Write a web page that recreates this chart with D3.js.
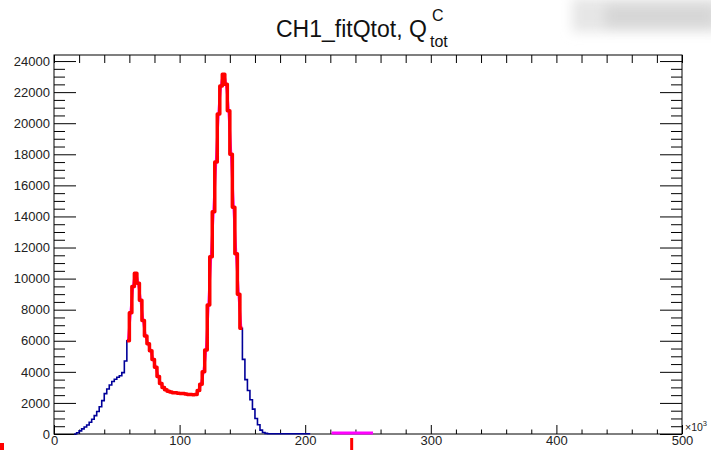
<!DOCTYPE html>
<html>
<head>
<meta charset="utf-8">
<script src="https://cdn.jsdelivr.net/npm/d3@7"></script>
<style>
  html, body { margin: 0; padding: 0; background: #fff; }
  svg { display: block; font-family: "Liberation Sans", Arial, sans-serif; }
</style>
</head>
<body>
<svg id="chart" width="711" height="450"></svg>
<script>
// Histogram of Q_tot (units of 10^3), 2-unit bins starting at binStart
const binStart = 16;
const binWidth = 2;
const counts = [
  0, 80, 200, 330, 450, 580, 760, 950, 1180, 1450,
  1750, 2150, 2600, 2900, 3150, 3380, 3520, 3650, 3750, 3950,
  4700, 6000, 7800, 9500, 10350, 9700, 8600, 7300, 6300, 5800,
  5350, 4800, 4300, 3700, 3250, 3000, 2850, 2750, 2700, 2650,
  2650, 2620, 2600, 2600, 2580, 2550, 2550, 2520, 2550, 2800,
  3200, 4000, 5400, 8300, 11400, 14300, 17500, 20600, 22400, 23150,
  22500, 20800, 18000, 14600, 11600, 9000, 6800, 4800, 3500, 2800,
  2200, 1600, 1000, 600, 250, 100, 40, 20, 20, 20,
  20, 20, 20, 20, 20, 20, 20, 20, 20, 20,
  20, 20, 20, 20
];
// Fit range (same units)
const fitRange = [58, 150];
// Secondary function range drawn along the baseline
const pedRange = [221, 254];
const pedMarker = 237;

// Axis ticks
const xMajor = [0, 100, 200, 300, 400, 500];
const yMajor = [0, 2000, 4000, 6000, 8000, 10000, 12000, 14000, 16000, 18000, 20000, 22000, 24000];
const xDomain = [0, 500];
const yDomain = [0, 24390];

const svg = d3.select("#chart");
const L = 54, R = 682, T = 55, B = 434;

const x = d3.scaleLinear().domain(xDomain).range([L, R]);
const y = d3.scaleLinear().domain(yDomain).range([B, T]);

// soft grey panel, top right
const defs = svg.append("defs");
defs.append("filter").attr("id", "soft").attr("x", "-50%").attr("y", "-100%").attr("width", "200%").attr("height", "300%")
  .append("feGaussianBlur").attr("stdDeviation", 6);
svg.append("rect").attr("x", 572).attr("y", -2).attr("width", 160).attr("height", 34)
  .attr("fill", "#e6e6e6").attr("filter", "url(#soft)");
svg.append("rect").attr("x", 605).attr("y", 6).attr("width", 110).attr("height", 20)
  .attr("fill", "#d6d6d6").attr("filter", "url(#soft)");

// title
svg.append("text").attr("x", 276).attr("y", 37)
  .attr("font-size", 23).attr("fill", "#111").text("CH1_fitQtot, Q");
svg.append("text").attr("x", 432).attr("y", 21).attr("font-size", 16).attr("fill", "#111").text("C");
svg.append("text").attr("x", 430).attr("y", 47).attr("font-size", 16).attr("fill", "#111").text("tot");

// minor tick values
const xMinor = d3.range(0, 501, 20).filter(v => v % 100 !== 0);
const xAll = d3.range(0, 501, 20);
const yMinor = d3.range(0, yDomain[1], 500).filter(v => v % 2000 !== 0);

function styleAxis(g) {
  g.select(".domain").remove();
  g.selectAll(".tick line").attr("stroke", "#000").attr("stroke-width", 1);
  g.selectAll(".tick text").attr("fill", "#222").attr("font-family", "Liberation Sans, Arial, sans-serif");
}

// left axis
svg.append("g").attr("transform", `translate(${L},0)`)
  .call(d3.axisLeft(y).tickValues(yMajor).tickSize(-22).tickPadding(4).tickFormat(d3.format("d")))
  .call(styleAxis).call(g => g.selectAll(".tick text").attr("font-size", 13));
svg.append("g").attr("transform", `translate(${L},0)`)
  .call(d3.axisLeft(y).tickValues(yMinor).tickSize(-11).tickFormat(""))
  .call(styleAxis);

// right axis
svg.append("g").attr("transform", `translate(${R},0)`)
  .call(d3.axisRight(y).tickValues(yMajor).tickSize(-22).tickFormat(""))
  .call(styleAxis);
svg.append("g").attr("transform", `translate(${R},0)`)
  .call(d3.axisRight(y).tickValues(yMinor).tickSize(-11).tickFormat(""))
  .call(styleAxis);

// bottom axis
svg.append("g").attr("transform", `translate(0,${B})`)
  .call(d3.axisBottom(x).tickValues(xMajor).tickSize(-9).tickPadding(2).tickFormat(d3.format("d")))
  .call(styleAxis).call(g => g.selectAll(".tick text").attr("font-size", 13));
svg.append("g").attr("transform", `translate(0,${B})`)
  .call(d3.axisBottom(x).tickValues(xMinor).tickSize(-4.5).tickFormat(""))
  .call(styleAxis);

// top axis
svg.append("g").attr("transform", `translate(0,${T})`)
  .call(d3.axisTop(x).tickValues(xAll).tickSize(-8).tickFormat(""))
  .call(styleAxis);

// frame
svg.append("rect").attr("x", L).attr("y", T).attr("width", R - L).attr("height", B - T)
  .attr("fill", "none").attr("stroke", "#000").attr("stroke-width", 1);

// exponent label
const ex = svg.append("text").attr("x", 685).attr("y", 431).attr("font-size", 10.5).attr("fill", "#222");
ex.append("tspan").text("\u00d710");
ex.append("tspan").attr("dy", -5).attr("font-size", 7.5).text("3");

// histogram as steps
const bins = counts.map((c, i) => ({ lo: binStart + i * binWidth, hi: binStart + (i + 1) * binWidth, c }));
const stepPts = [];
bins.forEach(b => { stepPts.push([b.lo, b.c]); stepPts.push([b.hi, b.c]); });
stepPts.unshift([binStart, 0]);

const line = d3.line().x(d => x(d[0])).y(d => y(d[1]));

svg.append("path").datum(stepPts).attr("d", line)
  .attr("fill", "none").attr("stroke", "#000099").attr("stroke-width", 1.6);

// fit function (smooth) and fitted bins
const fitBins = bins.filter(b => b.lo >= fitRange[0] && b.hi <= fitRange[1]);
const smoothPts = fitBins.map(b => [(b.lo + b.hi) / 2, b.c]);
svg.append("path").datum(smoothPts)
  .attr("d", d3.line().x(d => x(d[0])).y(d => y(d[1])).curve(d3.curveMonotoneX))
  .attr("fill", "none").attr("stroke", "#ff00ff").attr("stroke-width", 2.5);

const fitSteps = [];
fitBins.forEach(b => { fitSteps.push([b.lo, b.c]); fitSteps.push([b.hi, b.c]); });
svg.append("path").datum(fitSteps).attr("d", line)
  .attr("fill", "none").attr("stroke", "#ff0000").attr("stroke-width", 3.5)
  .attr("stroke-linejoin", "round");

// baseline function segment
svg.append("line").attr("x1", x(pedRange[0])).attr("x2", x(pedRange[1]))
  .attr("y1", y(60)).attr("y2", y(60)).attr("stroke", "#ff00ff").attr("stroke-width", 3);
svg.append("line").attr("x1", x(pedMarker)).attr("x2", x(pedMarker))
  .attr("y1", 438).attr("y2", 450).attr("stroke", "#ff0000").attr("stroke-width", 3);

// corner marker
svg.append("rect").attr("x", 0).attr("y", 443).attr("width", 4).attr("height", 7).attr("fill", "#ff0000");
</script>
</body>
</html>
